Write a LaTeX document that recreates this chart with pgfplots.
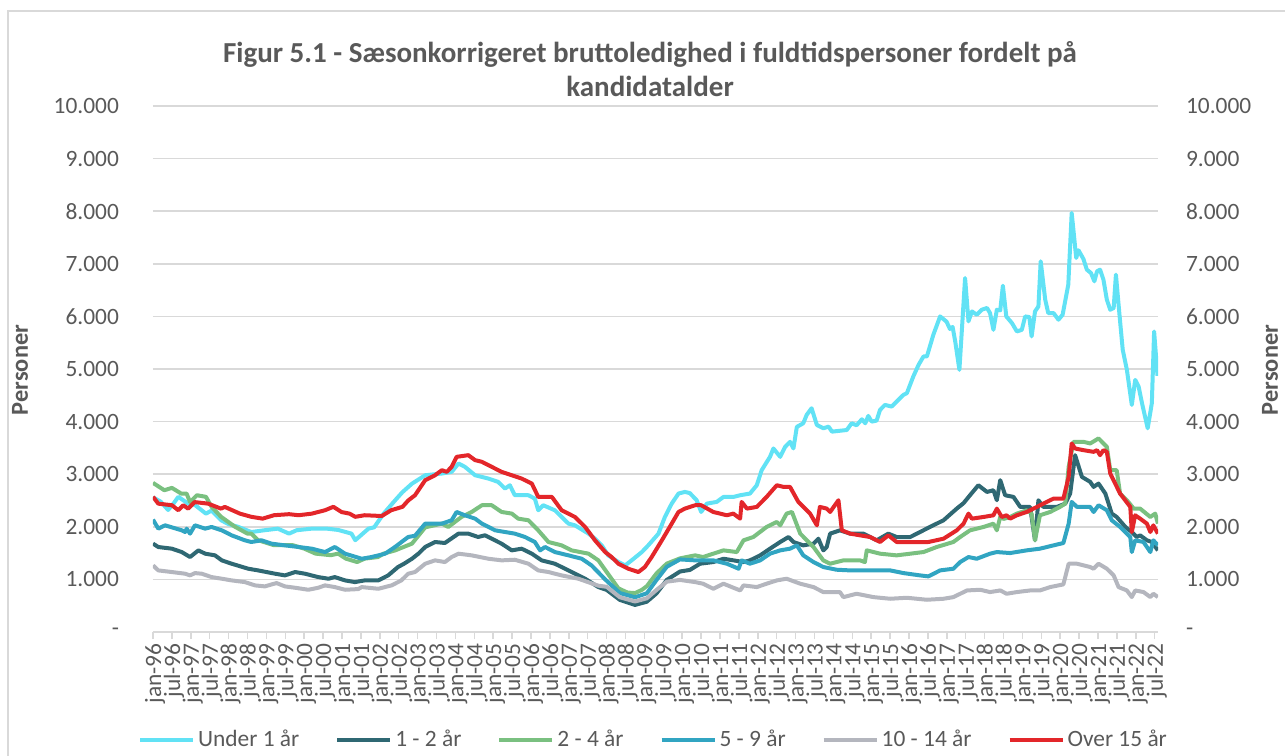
\documentclass[border=0pt]{standalone}
\usepackage{pgfplots}
\pgfplotsset{compat=1.18}
\usepackage{fontspec}
\setmainfont{Carlito}
\definecolor{cU}{HTML}{61E2F5}
\definecolor{cA}{HTML}{2F6873}
\definecolor{cB}{HTML}{7AC080}
\definecolor{cC}{HTML}{31A5C2}
\definecolor{cD}{HTML}{B4B6BE}
\definecolor{cE}{HTML}{E3262A}
\definecolor{gridgray}{HTML}{D9D9D9}
\definecolor{txt}{HTML}{595959}
\begin{document}
\begin{tikzpicture}
\path[use as bounding box] (-76.5pt,-61.5pt) rectangle (566pt,316pt);
\draw[gridgray, line width=0.75pt] (-72.5pt,-62pt) -- (-72.5pt,310.5pt) -- (567pt,310.5pt);
\begin{axis}[
  at={(0,0)}, anchor=south west,
  scale only axis, width=502.5pt, height=263pt,
  xmin=1996, xmax=2022.583, ymin=0, ymax=10000,
  scaled y ticks=false,
  axis x line*=bottom, axis y line*=left,
  x axis line style={draw=gridgray, line width=0.75pt, -},
  y axis line style={draw=none},
  tick align=outside,
  xtick={1996,1996.5,...,2022.5},
  xticklabels={jan-96,jul-96,jan-97,jul-97,jan-98,jul-98,jan-99,jul-99,jan-00,jul-00,jan-01,jul-01,jan-02,jul-02,jan-03,jul-03,jan-04,jul-04,jan-05,jul-05,jan-06,jul-06,jan-07,jul-07,jan-08,jul-08,jan-09,jul-09,jan-10,jul-10,jan-11,jul-11,jan-12,jul-12,jan-13,jul-13,jan-14,jul-14,jan-15,jul-15,jan-16,jul-16,jan-17,jul-17,jan-18,jul-18,jan-19,jul-19,jan-20,jul-20,jan-21,jul-21,jan-22,jul-22},
  xtick style={draw=gridgray, line width=0.75pt},
  x tick label style={rotate=90, anchor=east, font=\fontsize{11.7}{12}\selectfont, text=txt, yshift=-1pt, inner sep=2pt},
  major tick length=3.5pt,
  ytick={0,1000,...,10000},
  yticklabels={-\hspace{4.5pt},1.000,2.000,3.000,4.000,5.000,6.000,7.000,8.000,9.000,10.000},
  ytick style={draw=none},
  y tick label style={font=\fontsize{11.7}{12}\selectfont, text=txt, xshift=-10pt},
  ymajorgrids, grid style={draw=gridgray, line width=0.75pt},
  every axis plot/.append style={line width=2pt, line join=round},
  legend columns=6,
  legend style={at={(0.4985,-0.2053)}, anchor=center, draw=none, fill=none,
    font=\fontsize{11.7}{12}\selectfont, text=txt,
    nodes={inner xsep=1.5pt},
    /tikz/every even column/.append style={column sep=16.5pt}},
  legend image code/.code={\draw[#1, line width=2pt] (0pt,0pt) -- (26.5pt,0pt);},
]
\addplot[cU] coordinates {
(1996.0,2560)(1996.2,2480)(1996.4,2320)(1996.55,2450)(1996.67,2570)(1996.93,2440)(1997.1,2420)(1997.4,2250)(1997.55,2310)(1997.8,2125)(1998.0,2050)(1998.25,2000)(1998.6,1900)(1998.9,1930)(1999.3,1965)(1999.6,1870)(1999.8,1935)(2000.2,1965)(2000.6,1965)(2000.9,1940)(2001.1,1900)(2001.25,1870)(2001.35,1745)(2001.7,1965)(2001.85,1990)(2002.1,2250)(2002.4,2500)(2002.6,2660)(2002.85,2820)(2003.2,2980)(2003.64,3013)(2003.9,3044)(2004.08,3203)(2004.25,3140)(2004.52,2980)(2004.87,2917)(2005.13,2854)(2005.31,2727)(2005.44,2790)(2005.57,2600)(2005.93,2600)(2006.1,2536)(2006.19,2314)(2006.32,2410)(2006.63,2314)(2006.99,2060)(2007.16,2028)(2007.52,1870)(2007.69,1775)(2007.87,1647)(2008.04,1457)(2008.31,1330)(2008.49,1267)(2008.66,1362)(2008.93,1520)(2009.1,1647)(2009.37,1870)(2009.54,2187)(2009.72,2441)(2009.9,2632)(2010.07,2663)(2010.2,2640)(2010.38,2505)(2010.5,2282)(2010.65,2441)(2010.91,2473)(2011.09,2568)(2011.35,2568)(2011.53,2600)(2011.79,2632)(2011.97,2790)(2012.1,3076)(2012.32,3330)(2012.41,3489)(2012.59,3330)(2012.72,3520)(2012.85,3616)(2012.94,3489)(2013.03,3900)(2013.2,3968)(2013.29,4127)(2013.42,4254)(2013.56,3936)(2013.73,3873)(2013.87,3904)(2013.96,3809)(2014.35,3840)(2014.48,3968)(2014.61,3930)(2014.75,4044)(2014.84,3968)(2014.92,4108)(2015.01,4000)(2015.14,4019)(2015.23,4222)(2015.36,4317)(2015.54,4286)(2015.67,4381)(2015.85,4508)(2015.94,4540)(2016.11,4857)(2016.25,5079)(2016.38,5238)(2016.47,5238)(2016.64,5650)(2016.82,6000)(2016.99,5900)(2017.08,5760)(2017.15,5800)(2017.22,5520)(2017.33,4984)(2017.48,6730)(2017.57,5905)(2017.66,6095)(2017.79,6032)(2017.92,6127)(2018.06,6160)(2018.14,6063)(2018.23,5745)(2018.32,6127)(2018.41,6115)(2018.48,6584)(2018.57,6000)(2018.72,5873)(2018.85,5714)(2018.98,5745)(2019.07,6000)(2019.18,5987)(2019.24,5619)(2019.33,6095)(2019.42,6190)(2019.48,7048)(2019.6,6317)(2019.68,6063)(2019.82,6063)(2019.95,5937)(2020.06,6032)(2020.21,6603)(2020.3,7968)(2020.42,7111)(2020.48,7257)(2020.61,7092)(2020.7,6889)(2020.81,6825)(2020.9,6667)(2020.97,6857)(2021.05,6889)(2021.14,6698)(2021.23,6317)(2021.32,6127)(2021.41,6159)(2021.47,6794)(2021.56,6063)(2021.65,5365)(2021.76,4984)(2021.89,4317)(2021.98,4793)(2022.07,4667)(2022.16,4349)(2022.31,3873)(2022.42,4349)(2022.48,5714)(2022.57,4870)
};
\addlegendentry{Under 1 år}
\addplot[cA] coordinates {
(1996.0,1680)(1996.14,1616)(1996.5,1584)(1996.76,1520)(1996.98,1425)(1997.2,1552)(1997.38,1489)(1997.64,1457)(1997.82,1362)(1998.08,1298)(1998.52,1203)(1998.78,1171)(1999.23,1108)(1999.49,1076)(1999.76,1140)(2000.02,1108)(2000.37,1044)(2000.64,1013)(2000.81,1044)(2001.08,981)(2001.34,949)(2001.6,981)(2001.96,981)(2002.22,1076)(2002.48,1235)(2002.64,1298)(2002.85,1393)(2003.02,1489)(2003.2,1616)(2003.46,1711)(2003.72,1692)(2004.08,1870)(2004.34,1870)(2004.6,1806)(2004.78,1838)(2004.96,1774)(2005.22,1679)(2005.49,1552)(2005.75,1584)(2006.02,1489)(2006.28,1362)(2006.63,1298)(2006.99,1171)(2007.43,1013)(2007.78,854)(2008.0,800)(2008.35,610)(2008.75,515)(2009.06,575)(2009.32,735)(2009.59,990)(2009.94,1150)(2010.2,1180)(2010.47,1298)(2010.82,1330)(2011.09,1393)(2011.35,1362)(2011.62,1330)(2011.79,1362)(2012.06,1457)(2012.32,1584)(2012.59,1711)(2012.81,1806)(2012.94,1711)(2013.2,1647)(2013.47,1679)(2013.6,1774)(2013.73,1552)(2013.82,1616)(2013.91,1870)(2014.17,1933)(2014.44,1870)(2014.79,1870)(2015.14,1743)(2015.45,1870)(2015.67,1806)(2016.03,1806)(2016.29,1901)(2016.55,1997)(2016.91,2124)(2017.26,2346)(2017.44,2450)(2017.61,2600)(2017.83,2790)(2018.06,2663)(2018.23,2695)(2018.32,2505)(2018.41,2886)(2018.54,2600)(2018.76,2568)(2018.94,2378)(2019.2,2378)(2019.33,1743)(2019.42,2505)(2019.55,2378)(2019.91,2378)(2020.13,2441)(2020.26,2632)(2020.39,3362)(2020.57,2949)(2020.79,2854)(2020.88,2758)(2021.01,2822)(2021.19,2632)(2021.36,2251)(2021.49,2187)(2021.72,1997)(2021.89,1901)(2022.02,1806)(2022.11,1838)(2022.29,1743)(2022.42,1711)(2022.58,1552)
};
\addlegendentry{1 - 2 år}
\addplot[cB] coordinates {
(1996.0,2835)(1996.3,2695)(1996.5,2740)(1996.75,2630)(1996.89,2630)(1996.98,2470)(1997.16,2600)(1997.4,2570)(1997.55,2380)(1997.8,2190)(1998.17,2000)(1998.5,1870)(1998.6,1870)(1998.78,1745)(1999.2,1650)(1999.7,1650)(2000.0,1585)(2000.3,1490)(2000.7,1460)(2000.9,1490)(2001.1,1395)(2001.4,1330)(2001.6,1395)(2001.95,1425)(2002.1,1490)(2002.4,1550)(2002.85,1680)(2003.2,1990)(2003.64,2060)(2003.81,1997)(2004.16,2187)(2004.43,2282)(2004.7,2410)(2004.96,2410)(2005.22,2282)(2005.49,2251)(2005.66,2155)(2005.93,2124)(2006.19,1933)(2006.46,1711)(2006.81,1647)(2007.07,1552)(2007.52,1489)(2007.78,1362)(2008.04,1100)(2008.31,830)(2008.55,750)(2008.75,740)(2008.93,800)(2009.06,870)(2009.32,1115)(2009.59,1300)(2009.94,1400)(2010.34,1457)(2010.55,1425)(2010.82,1489)(2011.09,1552)(2011.44,1520)(2011.62,1743)(2011.88,1806)(2012.23,1997)(2012.5,2092)(2012.59,2028)(2012.76,2251)(2012.9,2282)(2013.12,1870)(2013.47,1616)(2013.73,1362)(2013.91,1298)(2014.26,1362)(2014.7,1362)(2014.83,1330)(2014.88,1552)(2015.23,1489)(2015.67,1457)(2016.03,1489)(2016.38,1520)(2016.73,1616)(2017.17,1711)(2017.35,1806)(2017.61,1933)(2017.97,1997)(2018.23,2060)(2018.32,1933)(2018.41,2187)(2018.5,2150)(2018.67,2187)(2018.85,2251)(2019.11,2314)(2019.24,2251)(2019.33,1743)(2019.46,2219)(2019.73,2282)(2019.99,2378)(2020.13,2441)(2020.22,3140)(2020.35,3616)(2020.61,3616)(2020.79,3584)(2021.01,3680)(2021.23,3520)(2021.32,3076)(2021.49,3076)(2021.58,2632)(2021.76,2505)(2021.94,2346)(2022.11,2346)(2022.38,2187)(2022.51,2251)(2022.58,2060)
};
\addlegendentry{2 - 4 år}
\addplot[cC] coordinates {
(1996.0,2136)(1996.14,1965)(1996.32,2028)(1996.76,1933)(1996.85,1901)(1996.89,1965)(1996.98,1870)(1997.11,2028)(1997.38,1965)(1997.55,1997)(1997.82,1933)(1998.08,1838)(1998.43,1743)(1998.6,1711)(1998.87,1743)(1999.14,1679)(1999.49,1647)(1999.85,1616)(2000.2,1584)(2000.55,1520)(2000.81,1616)(2001.08,1489)(2001.52,1393)(2001.78,1425)(2002.14,1489)(2002.4,1616)(2002.75,1806)(2002.93,1830)(2003.2,2060)(2003.64,2060)(2003.9,2124)(2004.03,2282)(2004.25,2219)(2004.52,2155)(2004.7,2060)(2005.05,1933)(2005.31,1901)(2005.57,1870)(2005.84,1806)(2006.1,1711)(2006.24,1552)(2006.37,1616)(2006.63,1520)(2006.99,1457)(2007.34,1393)(2007.6,1266)(2007.96,1000)(2008.35,740)(2008.75,660)(2009.06,735)(2009.32,990)(2009.59,1240)(2009.94,1380)(2010.34,1362)(2010.82,1362)(2011.18,1298)(2011.49,1203)(2011.57,1362)(2011.79,1298)(2012.06,1362)(2012.32,1489)(2012.59,1552)(2012.85,1584)(2013.03,1647)(2013.2,1457)(2013.47,1330)(2013.73,1235)(2014.08,1184)(2014.44,1171)(2014.97,1171)(2015.5,1171)(2015.85,1120)(2016.29,1076)(2016.51,1057)(2016.82,1171)(2017.17,1203)(2017.35,1330)(2017.57,1425)(2017.79,1393)(2018.14,1489)(2018.32,1520)(2018.67,1501)(2019.11,1552)(2019.46,1584)(2019.82,1647)(2020.08,1692)(2020.22,2060)(2020.3,2473)(2020.44,2378)(2020.79,2378)(2020.88,2282)(2021.01,2410)(2021.23,2314)(2021.36,2124)(2021.58,1997)(2021.76,1870)(2021.85,1806)(2021.89,1520)(2021.98,1743)(2022.2,1711)(2022.38,1520)(2022.46,1743)(2022.58,1647)
};
\addlegendentry{5 - 9 år}
\addplot[cD] coordinates {
(1996.0,1267)(1996.14,1171)(1996.5,1140)(1996.85,1108)(1996.98,1076)(1997.11,1120)(1997.29,1108)(1997.55,1044)(1997.82,1013)(1998.08,981)(1998.43,949)(1998.7,886)(1998.96,867)(1999.14,905)(1999.27,930)(1999.49,867)(1999.76,841)(2000.11,803)(2000.37,841)(2000.55,886)(2000.81,854)(2001.08,803)(2001.43,816)(2001.52,854)(2001.96,822)(2002.31,886)(2002.57,981)(2002.75,1108)(2002.93,1140)(2003.2,1298)(2003.46,1362)(2003.72,1330)(2003.9,1425)(2004.08,1489)(2004.43,1457)(2004.87,1393)(2005.22,1362)(2005.57,1374)(2005.93,1298)(2006.19,1171)(2006.46,1140)(2006.81,1076)(2007.25,1013)(2007.78,880)(2008.0,860)(2008.35,660)(2008.75,580)(2009.06,640)(2009.32,800)(2009.59,957)(2009.94,990)(2010.34,949)(2010.55,918)(2010.82,822)(2011.09,918)(2011.53,790)(2011.62,886)(2011.97,854)(2012.23,918)(2012.5,981)(2012.76,1013)(2013.12,918)(2013.47,854)(2013.73,759)(2014.17,759)(2014.26,663)(2014.61,727)(2015.06,663)(2015.5,632)(2015.94,651)(2016.47,613)(2016.91,632)(2017.17,663)(2017.53,790)(2017.88,803)(2018.14,759)(2018.41,790)(2018.58,727)(2018.85,759)(2019.2,790)(2019.46,790)(2019.73,854)(2020.08,905)(2020.22,1298)(2020.44,1298)(2020.79,1235)(2020.88,1203)(2021.01,1298)(2021.23,1203)(2021.41,1076)(2021.54,854)(2021.76,790)(2021.89,664)(2021.98,790)(2022.2,759)(2022.38,664)(2022.46,727)(2022.58,664)
};
\addlegendentry{10 - 14 år}
\addplot[cE] coordinates {
(1996.0,2570)(1996.14,2440)(1996.5,2410)(1996.67,2315)(1996.8,2410)(1996.93,2345)(1997.1,2470)(1997.46,2440)(1997.8,2345)(1997.9,2378)(1998.3,2250)(1998.6,2190)(1998.9,2155)(1999.2,2220)(1999.6,2240)(1999.85,2220)(2000.2,2250)(2000.55,2315)(2000.77,2380)(2000.99,2280)(2001.2,2250)(2001.35,2190)(2001.6,2220)(2002.05,2205)(2002.3,2315)(2002.6,2380)(2002.75,2500)(2002.93,2600)(2003.2,2886)(2003.46,2980)(2003.64,3076)(2003.77,3044)(2003.9,3140)(2004.03,3330)(2004.34,3362)(2004.52,3267)(2004.7,3235)(2004.96,3140)(2005.22,3044)(2005.49,2980)(2005.75,2917)(2006.02,2822)(2006.19,2568)(2006.55,2568)(2006.81,2314)(2007.16,2187)(2007.43,1997)(2007.69,1743)(2007.96,1520)(2008.13,1425)(2008.31,1298)(2008.57,1203)(2008.84,1140)(2009.01,1235)(2009.19,1425)(2009.46,1743)(2009.72,2060)(2009.9,2282)(2010.07,2346)(2010.34,2410)(2010.5,2410)(2010.82,2282)(2011.18,2219)(2011.35,2251)(2011.53,2155)(2011.57,2473)(2011.71,2346)(2011.97,2378)(2012.23,2568)(2012.5,2790)(2012.68,2758)(2012.85,2758)(2013.07,2473)(2013.38,2251)(2013.56,2028)(2013.64,2378)(2013.82,2346)(2013.91,2282)(2014.13,2505)(2014.22,1933)(2014.44,1870)(2014.7,1838)(2014.97,1806)(2015.23,1711)(2015.45,1838)(2015.67,1711)(2015.93,1711)(2016.2,1711)(2016.51,1711)(2016.91,1774)(2017.26,1933)(2017.44,2060)(2017.57,2251)(2017.66,2155)(2017.97,2187)(2018.23,2219)(2018.32,2346)(2018.45,2187)(2018.58,2219)(2018.67,2155)(2018.85,2219)(2019.11,2282)(2019.38,2378)(2019.64,2473)(2019.82,2536)(2020.08,2536)(2020.22,2949)(2020.3,3584)(2020.39,3489)(2020.61,3457)(2020.88,3425)(2020.97,3457)(2021.05,3362)(2021.14,3457)(2021.23,3425)(2021.32,3013)(2021.45,2822)(2021.58,2632)(2021.85,2378)(2021.89,1901)(2021.98,2219)(2022.11,2155)(2022.29,2060)(2022.38,1901)(2022.46,2028)(2022.58,1870)
};
\addlegendentry{Over 15 år}
\end{axis}
\begin{axis}[
  at={(0,0)}, anchor=south west,
  scale only axis, width=502.5pt, height=263pt,
  xmin=1996, xmax=2022.583, ymin=0, ymax=10000,
  scaled y ticks=false,
  axis x line=none, axis y line*=right,
  y axis line style={draw=none},
  ytick={0,1000,...,10000},
  yticklabels={-,1.000,2.000,3.000,4.000,5.000,6.000,7.000,8.000,9.000,10.000},
  ytick style={draw=none},
  y tick label style={font=\fontsize{11.7}{12}\selectfont, text=txt, xshift=10.5pt},
]
\end{axis}
\node[align=center, text=txt, font=\fontsize{14.5}{17}\selectfont\bfseries] at (248.5pt,281.5pt) {Figur 5.1 - Sæsonkorrigeret bruttoledighed i fuldtidspersoner fordelt på\\kandidatalder};
\node[rotate=90, text=txt, font=\fontsize{12.2}{14}\selectfont\bfseries] at (-66.5pt,131pt) {Personer};
\node[rotate=90, text=txt, font=\fontsize{12.2}{14}\selectfont\bfseries] at (558.5pt,131pt) {Personer};
\end{tikzpicture}
\end{document}
